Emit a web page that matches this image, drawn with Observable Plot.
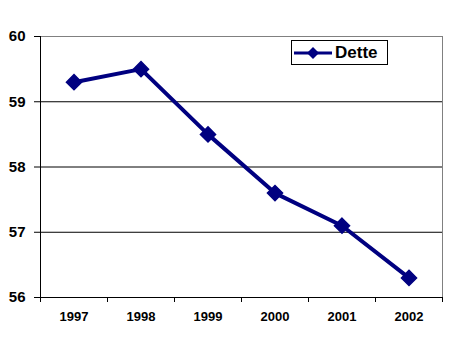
<!DOCTYPE html>
<html><head><meta charset="utf-8">
<script src="https://cdn.jsdelivr.net/npm/d3@7"></script>
<script src="https://cdn.jsdelivr.net/npm/@observablehq/plot@0.6"></script>
<style>
body{margin:0;background:#fff;font-family:Arial,"Liberation Sans",sans-serif;}
#wrap{position:relative;width:456px;height:353px;}
#legend{position:absolute;left:291px;top:40px;width:95px;height:23px;border:1px solid #000;background:#fff;display:flex;align-items:center;font-weight:bold;font-size:17px;}
#legend svg{margin-left:2px;margin-right:3px;}
#wrap svg g[aria-label*="x-axis"] text{font-size:13px !important;font-weight:bold !important;}
#wrap svg g[aria-label*="y-axis"] text{font-size:15px !important;font-weight:bold !important;}
</style></head>
<body><div id="wrap"></div>
<script>
const years = [1997, 1998, 1999, 2000, 2001, 2002];
const dette = [59.3, 59.5, 58.5, 57.6, 57.1, 56.3];
const yTicks = [56, 57, 58, 59, 60];
const seriesName = "Dette";

const data = years.map((y, i) => ({year: y, value: dette[i]}));
const bounds = d3.range(years[0] - 0.5, years[years.length - 1] + 1, 1);
const navy = "#000080";

const chart = Plot.plot({
  width: 456, height: 353,
  marginLeft: 40, marginRight: 14, marginTop: 36, marginBottom: 56,
  style: {fontFamily: "Arial, 'Liberation Sans', sans-serif", background: "#fff"},
  x: {type: "linear", domain: [bounds[0], bounds[bounds.length - 1]]},
  y: {domain: [56, 60]},
  marks: [
    Plot.ruleY(yTicks.filter(t => t > 56 && t < 60), {stroke: "#000", strokeOpacity: 1}),
    Plot.ruleY([60], {stroke: "#808080", strokeOpacity: 1}),
    Plot.ruleX([bounds[bounds.length - 1]], {stroke: "#808080", strokeOpacity: 1}),
    Plot.ruleX([bounds[0]], {stroke: "#000", strokeOpacity: 1}),
    Plot.ruleY([56], {stroke: "#000", strokeOpacity: 1}),
    Plot.axisY({ticks: yTicks, tickSize: 6, tickPadding: 9, tickFormat: d => String(d), fontSize: 15, fontWeight: "bold", label: null, stroke: "#000", strokeOpacity: 1, fill: "#000"}),
    Plot.axisX({ticks: bounds, tickSize: 5, tickFormat: () => "", label: null, stroke: "#000", strokeOpacity: 1}),
    Plot.axisX({ticks: years, tickSize: 0, tickPadding: 14, tickFormat: d => String(d), fontSize: 13, fontWeight: "bold", label: null, fill: "#000"}),
    Plot.line(data, {x: "year", y: "value", stroke: navy, strokeWidth: 4}),
    Plot.dot(data, {x: "year", y: "value", symbol: "diamond2", r: 6.8, fill: navy, stroke: navy})
  ]
});

const wrap = document.getElementById("wrap");
wrap.appendChild(chart);
const legend = document.createElement("div");
legend.id = "legend";
legend.innerHTML = `<svg width="38" height="14"><line x1="0" y1="7" x2="38" y2="7" stroke="${navy}" stroke-width="3"/><path d="M19,1 L25,7 L19,13 L13,7 Z" fill="${navy}"/></svg><span>${seriesName}</span>`;
wrap.appendChild(legend);
</script></body></html>
